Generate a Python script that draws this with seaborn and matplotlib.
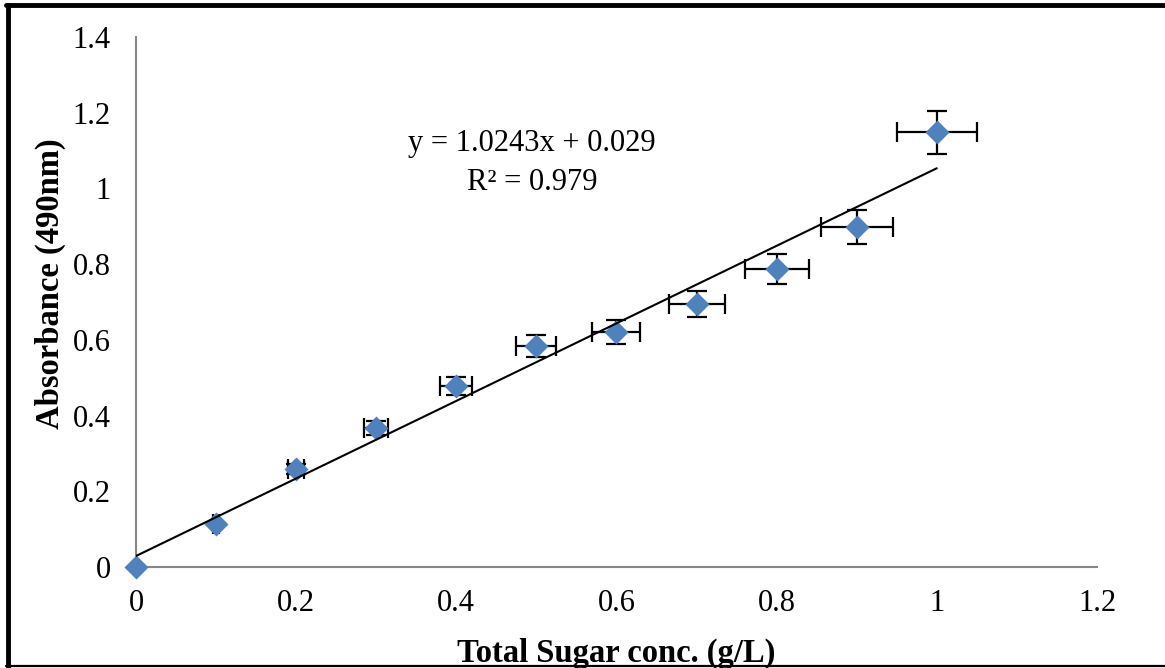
import matplotlib
matplotlib.use("Agg")
import matplotlib.pyplot as plt
from matplotlib.lines import Line2D
from matplotlib.ticker import FuncFormatter, MultipleLocator
import seaborn as sns
import pandas as pd
import numpy as np

# ---- data ----
sugar_conc = [0.0, 0.1, 0.2, 0.3, 0.4, 0.5, 0.6, 0.7, 0.8, 0.9, 1.0]
absorbance = [0.0, 0.113, 0.259, 0.367, 0.478, 0.584, 0.621, 0.695, 0.787, 0.898, 1.148]
conc_err = [0.0, 0.004, 0.010, 0.015, 0.020, 0.025, 0.030, 0.035, 0.040, 0.045, 0.050]
abs_err = [0.0, 0.003, 0.013, 0.018, 0.024, 0.029, 0.031, 0.035, 0.039, 0.045, 0.057]
slope = 1.0243
intercept = 0.029
r_squared = 0.979
trend_x = [0.0, 1.0]

df = pd.DataFrame({"conc": sugar_conc, "abs": absorbance})
trend_df = pd.DataFrame({"x": trend_x, "y": [slope * v + intercept for v in trend_x]})

sns.set_style("white")
plt.rcParams["font.family"] = ["Liberation Serif", "DejaVu Serif"]
plt.rcParams["text.color"] = "black"
plt.rcParams["axes.labelcolor"] = "black"

fig = plt.figure(figsize=(11.65, 6.68), dpi=100)
ax = fig.add_axes([0.1167, 0.1512, 0.8249, 0.7934])

ax.errorbar(sugar_conc, absorbance, xerr=conc_err, yerr=abs_err, fmt="none",
            ecolor="black", elinewidth=1.6, capsize=7.5, capthick=1.6, zorder=2)
sns.scatterplot(data=df, x="conc", y="abs", marker="D", s=150, color="#4F81BD",
                edgecolor="#4F81BD", linewidth=0, ax=ax, zorder=3)
sns.lineplot(data=trend_df, x="x", y="y", color="black", linewidth=1.5, ax=ax, zorder=4)

ax.set_xlim(0, 1.2)
ax.set_ylim(0, 1.4)
ax.xaxis.set_major_locator(MultipleLocator(0.2))
ax.yaxis.set_major_locator(MultipleLocator(0.2))
fmt = FuncFormatter(lambda v, p: f"{round(v, 2):g}")
ax.xaxis.set_major_formatter(fmt)
ax.yaxis.set_major_formatter(fmt)

for side in ["top", "right"]:
    ax.spines[side].set_visible(False)
for side in ["left", "bottom"]:
    ax.spines[side].set_color("#868686")
    ax.spines[side].set_linewidth(1.5)
ax.tick_params(axis="both", direction="out", length=7, width=1.5, color="#868686",
               labelsize=22, labelcolor="black")
ax.tick_params(axis="y", pad=11)
ax.tick_params(axis="x", pad=9)
for c in ax.collections:
    c.set_clip_on(False)

ax.set_xlabel("Total Sugar conc. (g/L)", fontsize=23.5, fontweight="bold")
ax.set_ylabel("Absorbance (490nm)", fontsize=23.5, fontweight="bold")
ax.xaxis.set_label_coords(0.5, -0.133)
ax.yaxis.set_label_coords(-0.073, 0.534)

ax.text(0.412, 0.80, f"y = {slope}x + {intercept}", transform=ax.transAxes,
        ha="center", va="center", fontsize=22)
ax.text(0.412, 0.726, f"R² = {r_squared}", transform=ax.transAxes,
        ha="center", va="center", fontsize=22)

# figure frame (left, top, bottom)
fig.add_artist(Line2D([0.0069, 0.0069], [0.0015, 0.9925], transform=fig.transFigure,
                      color="black", linewidth=3.5))
fig.add_artist(Line2D([0.005, 1.0], [0.9925, 0.9925], transform=fig.transFigure,
                      color="black", linewidth=3.5))
fig.add_artist(Line2D([0.005, 1.0], [0.003, 0.003], transform=fig.transFigure,
                      color="black", linewidth=1.6))

fig.savefig("out.png", dpi=100)
